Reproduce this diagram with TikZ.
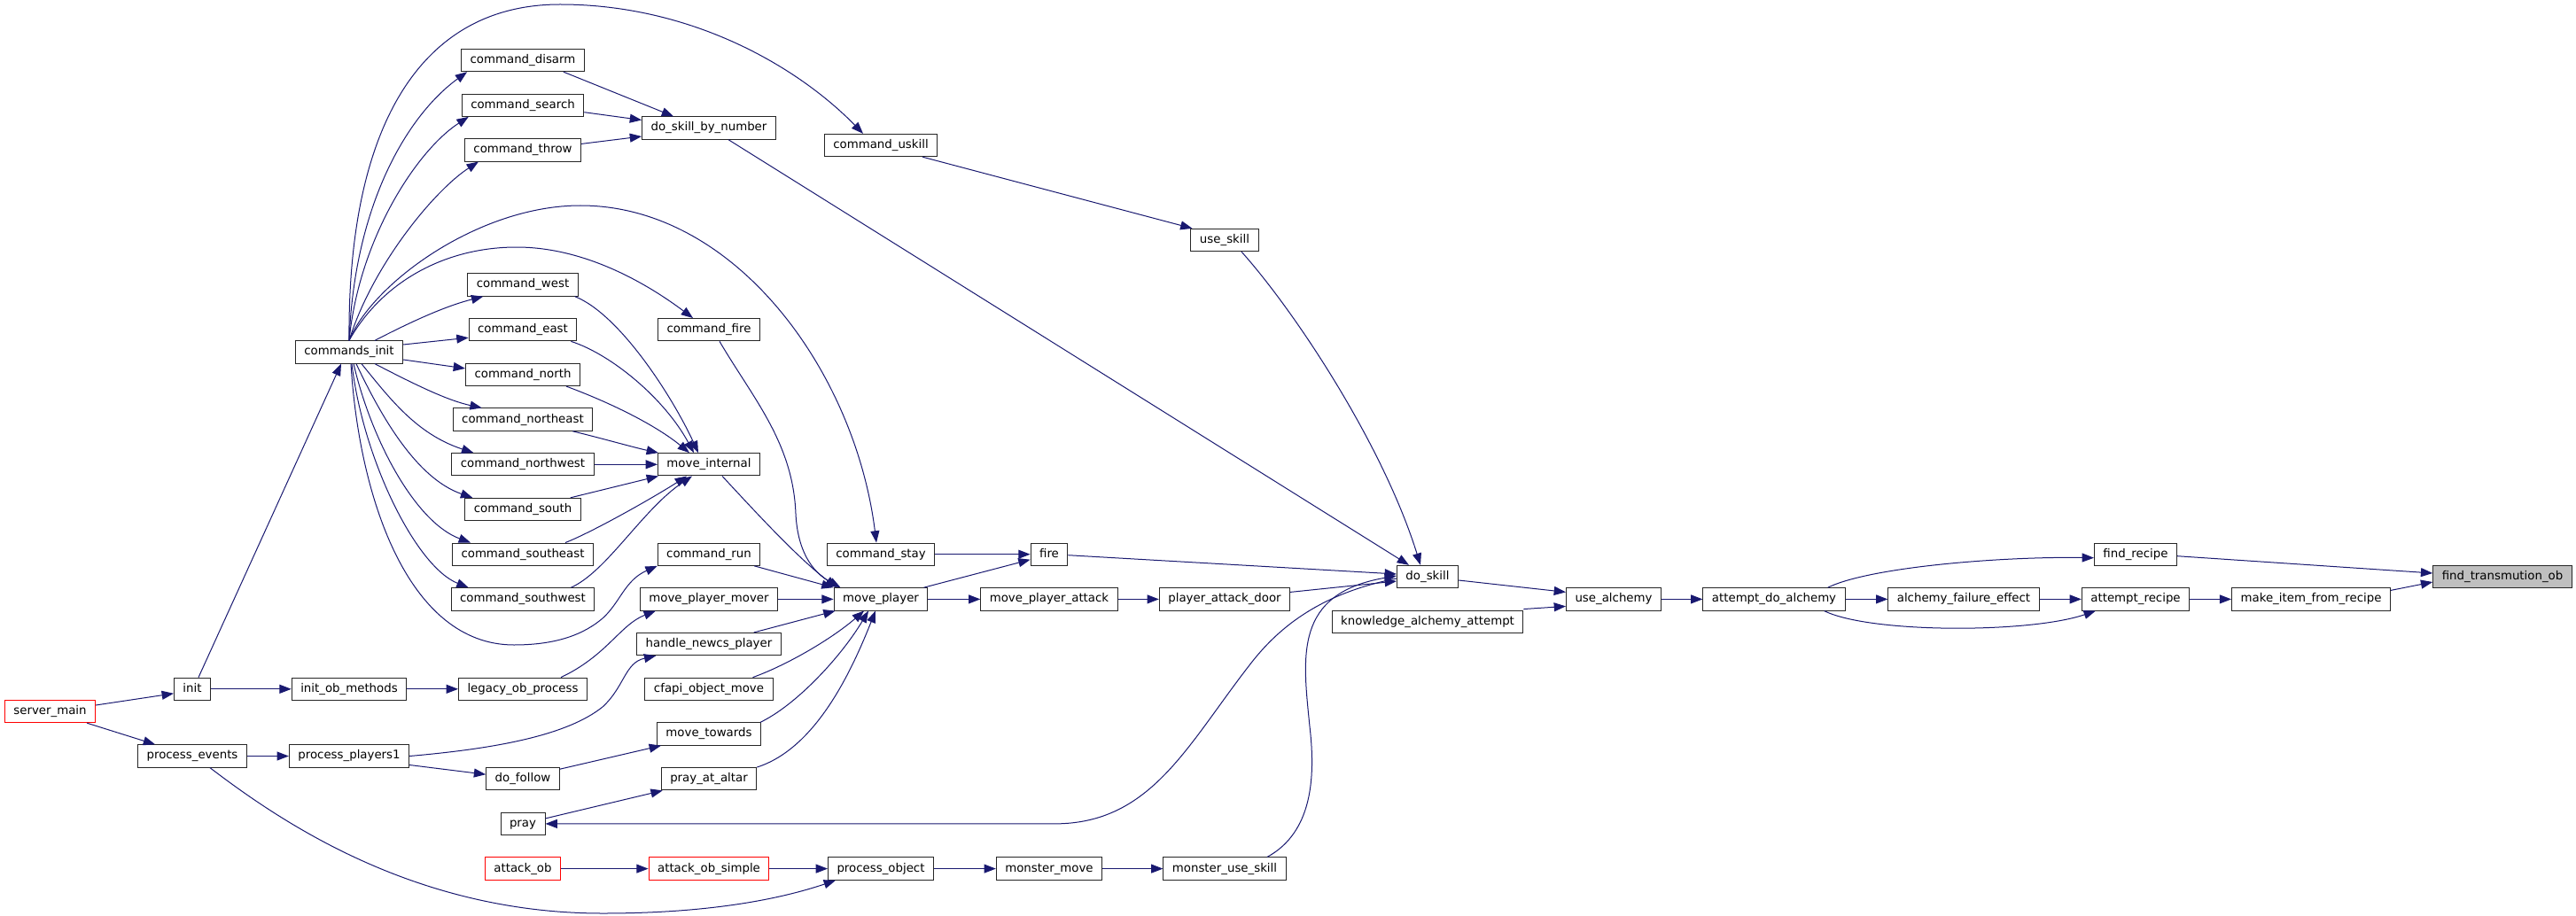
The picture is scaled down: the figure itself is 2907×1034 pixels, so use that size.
\documentclass[tikz,border=0pt]{standalone}
\usepackage{fontspec}
\setmainfont{DejaVu Sans}
\usetikzlibrary{arrows.meta,calc}
\definecolor{edgeblue}{HTML}{191970}
\definecolor{rootgray}{HTML}{BFBFBF}
\tikzset{
  fn/.style={draw=black!85, line width=0.75pt, fill=white, font=\fontsize{10pt}{12pt}\selectfont,
    inner xsep=7.5pt, inner ysep=0pt, minimum height=19pt, text height=7.6pt, text depth=2.4pt, anchor=center},
  trunc/.style={fn, draw=red},
  rootfn/.style={fn, fill=rootgray},
  cg/.style={draw=edgeblue, line width=0.75pt, -{Triangle[length=10pt,width=7.5pt]}}
}
\begin{document}
\begin{tikzpicture}[x=0.75pt,y=-0.75pt]
\useasboundingbox (0,0) rectangle (2907,1034);
% column 0-2
\node[trunc] (sm) at (56.5,803) {server\_main};
\node[fn] (init) at (217,777.8) {init};
\node[fn] (pe) at (217,853.5) {process\_events};
\node[fn] (ci) at (394,397.5) {commands\_init};
\node[fn] (iom) at (394,777.8) {init\_ob\_methods};
\node[fn] (pp1) at (394,853.5) {process\_players1};
% column 3
\node[fn] (cdis) at (590,68) {command\_disarm};
\node[fn] (csea) at (590,118.7) {command\_search};
\node[fn] (cthr) at (590,169.4) {command\_throw};
\node[fn] (cwest) at (590,321.5) {command\_west};
\node[fn] (ceast) at (590,372.2) {command\_east};
\node[fn] (cnorth) at (590,422.9) {command\_north};
\node[fn] (cne) at (590,473.6) {command\_northeast};
\node[fn] (cnw) at (590,524.3) {command\_northwest};
\node[fn] (csouth) at (590,575) {command\_south};
\node[fn] (cse) at (590,625.7) {command\_southeast};
\node[fn] (csw) at (590,676.4) {command\_southwest};
\node[fn] (lop) at (590,777.8) {legacy\_ob\_process};
\node[fn] (dof) at (590,879.2) {do\_follow};
\node[fn] (pray) at (590,929.9) {pray};
\node[trunc] (aob) at (590,980.6) {attack\_ob};
% column 4
\node[fn] (dsbn) at (800,144.5) {do\_skill\_by\_number};
\node[fn] (cfire) at (800,372.2) {command\_fire};
\node[fn] (mint) at (800,524.3) {move\_internal};
\node[fn] (crun) at (800,625.7) {command\_run};
\node[fn] (pmm) at (800,676.4) {move\_player\_mover};
\node[fn] (hnp) at (800,727.1) {handle\_newcs\_player};
\node[fn] (cfom) at (800,777.8) {cfapi\_object\_move};
\node[fn] (mtow) at (800,828.5) {move\_towards};
\node[fn] (paa) at (800,879.2) {pray\_at\_altar};
\node[trunc] (aobs) at (800,980.6) {attack\_ob\_simple};
% column 5
\node[fn] (cusk) at (994,164) {command\_uskill};
\node[fn] (cstay) at (994,625.7) {command\_stay};
\node[fn] (mp) at (994,676.4) {move\_player};
\node[fn] (po) at (994,980.6) {process\_object};
% column 6
\node[fn] (fire) at (1184,625.7) {fire};
\node[fn] (mpa) at (1184,676.4) {move\_player\_attack};
\node[fn] (mm) at (1184,980.6) {monster\_move};
% column 7
\node[fn] (uskill) at (1382,271) {use\_skill};
\node[fn] (pad) at (1382,676.4) {player\_attack\_door};
\node[fn] (mus) at (1382,980.6) {monster\_use\_skill};
% columns 8-14
\node[fn] (dskill) at (1611,651) {do\_skill};
\node[fn] (kaa) at (1611,701.7) {knowledge\_alchemy\_attempt};
\node[fn] (ualc) at (1821,676.4) {use\_alchemy};
\node[fn] (ada) at (2002,676.4) {attempt\_do\_alchemy};
\node[fn] (afe) at (2216,676.4) {alchemy\_failure\_effect};
\node[fn] (frec) at (2410,625.7) {find\_recipe};
\node[fn] (arec) at (2410,676.4) {attempt\_recipe};
\node[fn] (mifr) at (2608,676.4) {make\_item\_from\_recipe};
\node[rootfn] (fto) at (2824,651) {find\_transmution\_ob};

% commands_init fan (top)
\draw[cg] (ci.north) .. controls (400,230) and (460,130) .. ($(cdis.south west)+(7,0)$);
\draw[cg] (ci.north) .. controls (405,270) and (470,170) .. ($(csea.south west)+(8,0)$);
\draw[cg] (ci.north) .. controls (420,300) and (490,215) .. ($(cthr.south west)+(16,0)$);
\draw[cg] (ci.north) .. controls (392,150) and (470,5) .. (632,5) .. controls (780,5) and (900,75) .. ($(cusk.north)+(-20,0)$);
\draw[cg] (ci.north) .. controls (420,320) and (540,232) .. (655,232) .. controls (830,232) and (965,420) .. ($(cstay.north)+(-5,0)$);
\draw[cg] (ci.north) .. controls (430,320) and (500,279) .. (583,279) .. controls (660,279) and (730,320) .. ($(cfire.north)+(-18,0)$);
\draw[cg] ($(ci.north)+(29,0)$) .. controls (470,360) and (505,345) .. ($(cwest.south west)+(18,0)$);
\draw[cg] ($(ci.east)+(0,-8.5)$) -- ($(ceast.west)+(0,9)$);
\draw[cg] ($(ci.east)+(0,8.5)$) -- ($(cnorth.west)+(0,-7)$);
% commands_init fan (bottom)
\draw[cg] ($(ci.south)+(29,0)$) .. controls (470,435) and (505,452) .. ($(cne.north west)+(33,0)$);
\draw[cg] ($(ci.south)+(14,0)$) .. controls (440,450) and (470,490) .. ($(cnw.north west)+(25,0)$);
\draw[cg] ($(ci.south)+(8,0)$) .. controls (430,470) and (470,540) .. ($(csouth.north west)+(9,0)$);
\draw[cg] ($(ci.south)+(5,0)$) .. controls (420,500) and (470,590) .. ($(cse.north west)+(21,0)$);
\draw[cg] ($(ci.south)+(3,0)$) .. controls (410,520) and (470,640) .. ($(csw.north west)+(20,0)$);
\draw[cg] ($(ci.south)+(2,0)$) .. controls (405,560) and (460,728) .. (580,728) .. controls (630,728) and (660,715) .. (680,698) .. controls (700,680) and (705,655) .. (crun.south west);
\draw[cg] ($(init.north)+(7,0)$) -- ($(ci.south)+(-9,0)$);

% do_skill_by_number
\draw[cg] ($(cdis.south east)+(-24,0)$) -- ($(dsbn.north west)+(36,0)$);
\draw[cg] ($(csea.east)+(0,8)$) -- ($(dsbn.west)+(0,-9)$);
\draw[cg] ($(cthr.east)+(0,-7)$) -- ($(dsbn.west)+(0,9.5)$);
\draw[cg] ($(dsbn.south)+(22,0)$) -- ($(dskill.north west)+(14,0)$);
\draw[cg] ($(cusk.south)+(47,0)$) -- ($(uskill.north west)+(2,0)$);
\draw[cg] ($(uskill.south)+(19,0)$) .. controls (1460,350) and (1560,500) .. ($(dskill.north)+(-8,0)$);

% move_internal
\draw[cg] ($(cwest.south east)+(-4,0)$) .. controls (700,355) and (760,450) .. ($(mint.north)+(-12,0)$);
\draw[cg] ($(ceast.south east)+(-7,0)$) .. controls (690,400) and (750,450) .. ($(mint.north)+(-17,0)$);
\draw[cg] ($(cnorth.south east)+(-16,0)$) .. controls (690,455) and (740,480) .. ($(mint.north)+(-22,0)$);
\draw[cg] ($(cne.south east)+(-23,0)$) .. controls (680,495) and (715,505) .. ($(mint.north west)+(1,0)$);
\draw[cg] (cnw.east) -- (mint.west);
\draw[cg] ($(csouth.north east)+(-12,0)$) -- ($(mint.south west)+(1,0)$);
\draw[cg] ($(cse.north east)+(-32,0)$) .. controls (670,600) and (740,560) .. ($(mint.south)+(-25,0)$);
\draw[cg] ($(csw.north east)+(-27,0)$) .. controls (685,645) and (725,575) .. ($(mint.south)+(-19,0)$);

% move_player
\draw[cg] ($(mint.south)+(15,0)$) .. controls (850,575) and (900,630) .. ($(mp.north west)+(4,0)$);
\draw[cg] ($(cfire.south)+(12,0)$) .. controls (850,450) and (895,500) .. (898,580) .. controls (900,620) and (915,645) .. ($(mp.north west)+(8,0)$);
\draw[cg] ($(crun.south east)+(-7,0)$) -- (mp.north west);
\draw[cg] (pmm.east) -- (mp.west);
\draw[cg] ($(hnp.north east)+(-31,0)$) -- ($(mp.south west)+(2,0)$);
\draw[cg] ($(cfom.north east)+(-23,0)$) .. controls (890,750) and (940,720) .. ($(mp.south)+(-19,0)$);
\draw[cg] ($(mtow.north east)+(-1,0)$) .. controls (900,795) and (950,740) .. ($(mp.south)+(-14,0)$);
\draw[cg] (paa.north east) .. controls (920,845) and (960,760) .. ($(mp.south)+(-6,0)$);

% lower left
\draw[cg] ($(lop.north east)+(-30,0)$) .. controls (685,740) and (700,705) .. ($(pmm.south west)+(18,0)$);
\draw[cg] (pp1.east) .. controls (560,845) and (640,830) .. (680,798) .. controls (705,775) and (705,748) .. ($(hnp.south west)+(22,0)$);
\draw[cg] ($(pp1.east)+(0,10)$) -- ($(dof.west)+(0,-5)$);
\draw[cg] (pe.east) -- (pp1.west);
\draw[cg] ($(sm.east)+(0,-7)$) -- ($(init.west)+(0,5)$);
\draw[cg] ($(sm.south east)+(-10,0)$) -- ($(pe.north west)+(20,0)$);
\draw[cg] (init.east) -- (iom.west);
\draw[cg] (iom.east) -- (lop.west);
\draw[cg] ($(dof.east)+(0,-11)$) -- ($(mtow.south west)+(5,0)$);
\draw[cg] ($(pray.east)+(0,-6)$) -- ($(paa.south west)+(2,0)$);
\draw[cg] ($(pe.south)+(20,0)$) .. controls (320,930) and (470,1031) .. (680,1031) .. controls (800,1031) and (880,1015) .. ($(po.south west)+(9,0)$);

% do_skill
\draw[cg] ($(dskill.west)+(0,2)$) .. controls (1500,668) and (1450,700) .. (1413,747) .. controls (1340,840) and (1300,929.9) .. (1190,929.9) -- (pray.east);
\draw[cg] ($(mus.north)+(48,0)$) .. controls (1480,940) and (1485,880) .. (1478,820) .. controls (1470,740) and (1460,670) .. ($(dskill.west)+(0,-1)$);
\draw[cg] ($(fire.east)+(0,1)$) -- ($(dskill.west)+(0,-3)$);
\draw[cg] ($(pad.east)+(0,-8)$) -- ($(dskill.west)+(0,5)$);
\draw[cg] (cstay.east) -- (fire.west);
\draw[cg] ($(mp.north east)+(-5,0)$) -- ($(fire.west)+(0,6)$);
\draw[cg] (mp.east) -- (mpa.west);
\draw[cg] (mpa.east) -- (pad.west);
\draw[cg] (aob.east) -- (aobs.west);
\draw[cg] (aobs.east) -- (po.west);
\draw[cg] (po.east) -- (mm.west);
\draw[cg] (mm.east) -- (mus.west);

% alchemy
\draw[cg] ($(dskill.east)+(0,4)$) -- ($(ualc.west)+(0,-8)$);
\draw[cg] ($(kaa.north east)+(0,-1)$) -- ($(ualc.west)+(0,8)$);
\draw[cg] (ualc.east) -- (ada.west);
\draw[cg] ($(ada.north east)+(-20,0)$) .. controls (2110,640) and (2260,628) .. ($(frec.west)+(0,4)$);
\draw[cg] (ada.east) -- (afe.west);
\draw[cg] ($(ada.south east)+(-24,0)$) .. controls (2110,715) and (2290,715) .. ($(arec.south west)+(16,0)$);
\draw[cg] (afe.east) -- (arec.west);
\draw[cg] (arec.east) -- (mifr.west);
\draw[cg] ($(frec.east)+(0,2)$) -- ($(fto.west)+(0,-4)$);
\draw[cg] ($(mifr.east)+(0,-10)$) -- ($(fto.west)+(0,6)$);
\end{tikzpicture}
\end{document}
